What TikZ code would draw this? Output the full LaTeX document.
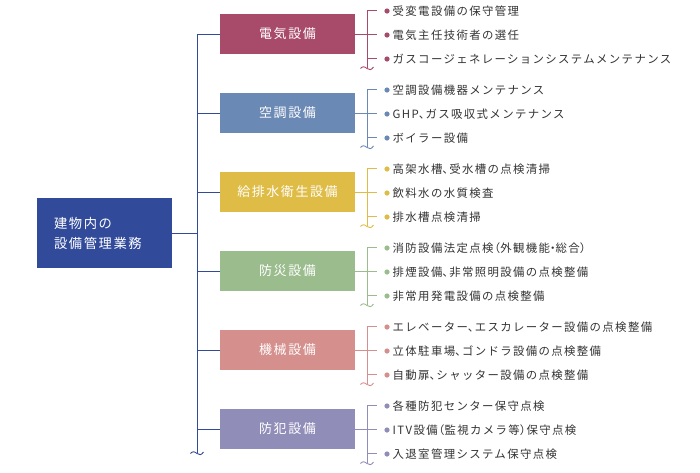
\documentclass[tikz,border=0pt]{standalone}
\usepackage{fontspec}
\newfontfamily\jp[LetterSpace=12]{Noto Sans CJK JP}
\newfontfamily\jpb[LetterSpace=12,AutoFakeBold=1.2]{Noto Sans CJK JP}
\definecolor{cMain}{HTML}{314A9A}
\definecolor{cA}{HTML}{A84B6A}
\definecolor{cB}{HTML}{6B89B5}
\definecolor{cC}{HTML}{DFBC46}
\definecolor{cD}{HTML}{9BBD8E}
\definecolor{cE}{HTML}{D58F8C}
\definecolor{cF}{HTML}{918DB9}
\definecolor{txt}{HTML}{333333}
\newcommand\hten{\makebox[0.6em][l]{、}}
\newcommand\lpar{\makebox[0.6em][r]{（}}
\newcommand\rpar{\makebox[0.6em][l]{）}}
\newcommand\ngr{\makebox[0.5em][c]{・}}
\tikzset{
  mainbox/.style={fill=cMain, text=white, minimum height=70pt, text width=101pt, inner xsep=17pt, align=left, font=\jpb\fontsize{13.3}{20}\selectfont},
  catbox/.style={minimum width=135pt, minimum height=40pt, inner sep=0pt, text=white, font=\jpb\fontsize{13}{15}\selectfont},
  itemtext/.style={anchor=west, inner sep=0pt, text=txt, font=\jp\fontsize{11.4}{13}\selectfont},
  conn/.style={line width=0.9pt},
}
\newcommand\wavyend[2]{% x, y
  \draw[conn] (#1-6.5,#2+0.5) .. controls (#1-4.5,#2-2) and (#1-2.5,#2-1.5) .. (#1,#2+0.5) .. controls (#1+2,#2+2.5) and (#1+4.5,#2+2) .. (#1+6.5,#2-1);
}
\newcommand\catgroup[7]{% name, color, center y, label, item1, item2, item3
  \node[catbox, fill=#2] (#1) at (287.5,#3) {#4};
  \coordinate (#1-t) at (197,#3);
  \coordinate (#1-b) at (367,#3);
  \coordinate (#1-top) at (367,#3-24);
  \coordinate (#1-end) at (367,#3+34);
  \draw[conn, cMain] (#1-t) -- (#1.west);
  \draw[conn, #2] (#1.east) -- (#1-b);
  \draw[conn, #2] (#1-top) -- (#1-end);
  \begin{scope}[#2]\wavyend{367}{#3+34}\end{scope}
  \foreach \dy/\txt [count=\k] in {-24/{#5}, 0/{#6}, 24/{#7}} {
    \coordinate (#1-s\k) at (367,#3+\dy);
    \coordinate (#1-e\k) at (377,#3+\dy);
    \draw[conn, #2] (#1-s\k) -- (#1-e\k);
    \fill[#2] (387,#3+\dy+1) circle (2.6pt);
    \node[itemtext] (#1-i\k) at (392.5,#3+\dy+1) {\txt};
  }
}
\begin{document}
\begin{tikzpicture}[x=1pt,y=-1pt]
\useasboundingbox (0,0) rectangle (700,472);
\node[mainbox] (main) at (104.5,233) {建物内の\\設備管理業務};
\coordinate (trunk-m) at (197,233);
\coordinate (trunk-top) at (197,34);
\coordinate (trunk-bot) at (197,453);
\draw[conn, cMain] (main.east) -- (trunk-m);
\draw[conn, cMain] (trunk-top) -- (trunk-bot);
\begin{scope}[cMain]\wavyend{197}{453}\end{scope}
\catgroup{g1}{cA}{34}{電気設備}{受変電設備の保守管理}{電気主任技術者の選任}{ガスコージェネレーションシステムメンテナンス}
\catgroup{g2}{cB}{113}{空調設備}{空調設備機器メンテナンス}{GHP\hten ガス吸収式メンテナンス}{ボイラー設備}
\catgroup{g3}{cC}{192}{給排水衛生設備}{高架水槽\hten 受水槽の点検清掃}{飲料水の水質検査}{排水槽点検清掃}
\catgroup{g4}{cD}{271}{防災設備}{消防設備法定点検\lpar 外観機能\ngr 総合\rpar}{排煙設備\hten 非常照明設備の点検整備}{非常用発電設備の点検整備}
\catgroup{g5}{cE}{350}{機械設備}{エレベーター\hten エスカレーター設備の点検整備}{立体駐車場\hten ゴンドラ設備の点検整備}{自動扉\hten シャッター設備の点検整備}
\catgroup{g6}{cF}{429}{防犯設備}{各種防犯センター保守点検}{ITV設備\lpar 監視カメラ等\rpar 保守点検}{入退室管理システム保守点検}
\end{tikzpicture}
\end{document}
